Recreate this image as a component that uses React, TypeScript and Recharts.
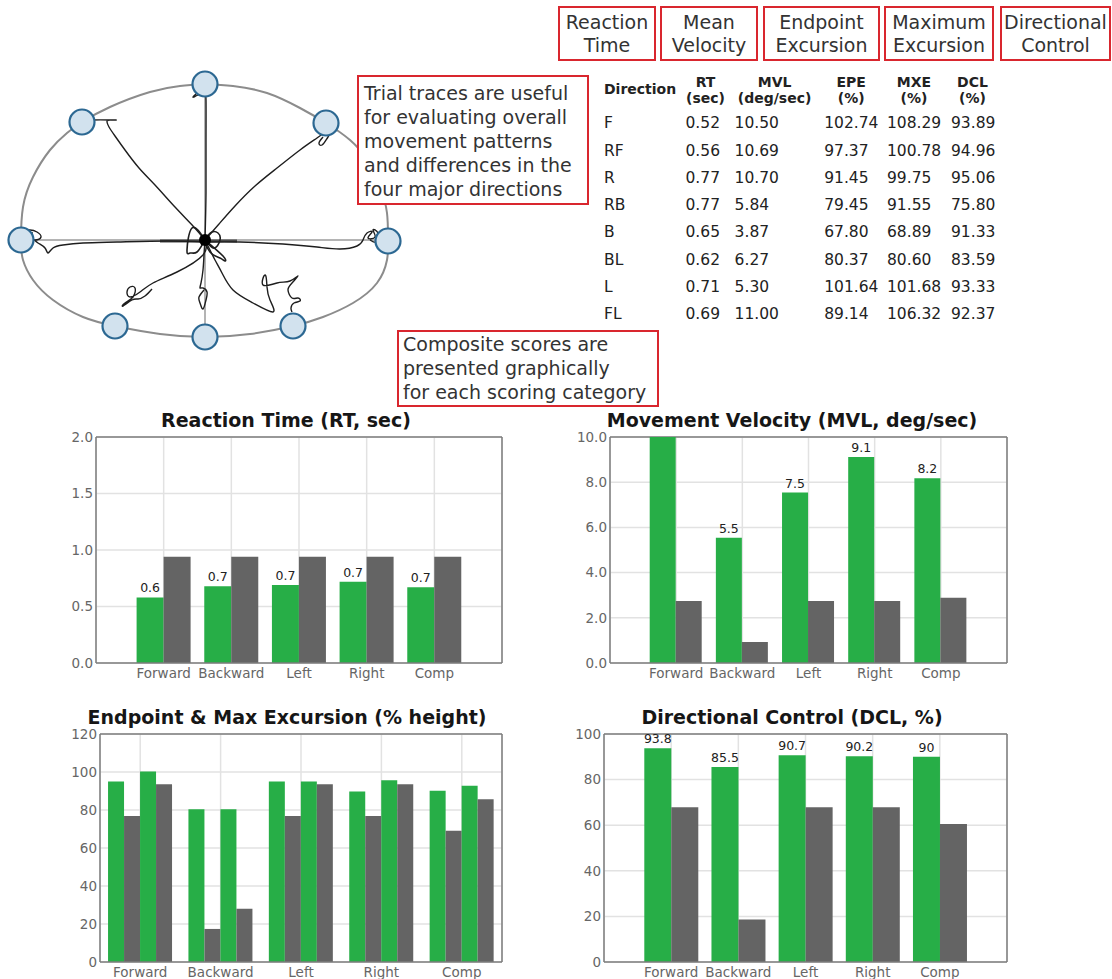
import React from 'react';
import {
  BarChart, Bar, XAxis, YAxis, CartesianGrid, LabelList,
  ComposedChart, Line, Scatter,
} from 'recharts';

const FONT = '"DejaVu Sans", Verdana, sans-serif';
const GREEN = '#27ae47';
const GREY = '#646464';
const RED = '#d9262e';

// ---------- bar chart data ----------
const categories = ['Forward', 'Backward', 'Left', 'Right', 'Comp'];
const rtPatient = [0.58, 0.68, 0.69, 0.72, 0.67];
const rtNorm = [0.94, 0.94, 0.94, 0.94, 0.94];
const mvlPatient = [10.5, 5.54, 7.54, 9.12, 8.18];
const mvlNorm = [2.74, 0.93, 2.74, 2.74, 2.89];
const epePatient = [95.0, 80.4, 95.0, 89.7, 90.1];
const epeNorm = [76.9, 17.4, 76.9, 76.9, 69.1];
const mxePatient = [100.3, 80.4, 95.0, 95.7, 92.7];
const mxeNorm = [93.6, 28.0, 93.6, 93.6, 85.7];
const dclPatient = [93.8, 85.5, 90.7, 90.2, 90.0];
const dclNorm = [67.9, 18.6, 67.9, 67.9, 60.5];

const rtTicks = [0, 0.5, 1.0, 1.5, 2.0];
const mvlTicks = [0, 2, 4, 6, 8, 10];
const epeTicks = [0, 20, 40, 60, 80, 100, 120];
const dclTicks = [0, 20, 40, 60, 80, 100];

// ---------- table data ----------
const directions = ['F', 'RF', 'R', 'RB', 'B', 'BL', 'L', 'FL'];
const tableRT = [0.52, 0.56, 0.77, 0.77, 0.65, 0.62, 0.71, 0.69];
const tableMVL = [10.5, 10.69, 10.7, 5.84, 3.87, 6.27, 5.3, 11.0];
const tableEPE = [102.74, 97.37, 91.45, 79.45, 67.8, 80.37, 101.64, 89.14];
const tableMXE = [108.29, 100.78, 99.75, 91.55, 68.89, 80.6, 101.68, 106.32];
const tableDCL = [93.89, 94.96, 95.06, 75.8, 91.33, 83.59, 93.33, 92.37];
const tableHeads = [['RT', '(sec)'], ['MVL', '(deg/sec)'], ['EPE', '(%)'], ['MXE', '(%)'], ['DCL', '(%)']];
const topLabels = [['Reaction', 'Time'], ['Mean', 'Velocity'], ['Endpoint', 'Excursion'], ['Maximum', 'Excursion'], ['Directional', 'Control']];

// ---------- trace diagram data (units: px offset from centre, y up) ----------
const outline = [
  [0, 156], [28, 154], [62, 147], [95, 132], [121, 117], [145, 100], [162, 80], [175, 53], [182, 27], [183, 0],
  [182, -20], [172, -43], [148, -63], [118, -77], [88, -86], [45, -94], [0, -97], [-45, -94], [-90, -86],
  [-122, -77], [-152, -60], [-172, -40], [-182, -20], [-184, 0], [-182, 33], [-172, 63], [-155, 90],
  [-138, 107], [-123, 118], [-95, 133], [-55, 148], [-25, 154], [0, 156],
];
const targets = [[0, 156], [121, 117], [183, -1], [88, -86], [0, -97], [-90, -86], [-184, 0], [-123, 118]];
const guideV = [[0, 156], [0, -97]];
const guideH = [[-184, 0], [183, 0]];
const centreBar = [[-45, -1], [32, -1]];
const centreDot = [[0, 0]];
const traceF = [[0, 0], [1, 47], [1, 97], [1, 140], [-1, 148], [-7, 145], [-12, 143], [-5, 150], [3, 160], [8, 163], [10, 159], [5, 153], [-1, 147], [3, 155], [8, 161]];
const traceFR = [[0, 0], [14, 16], [30, 34], [50, 54], [72, 72], [95, 90], [112, 102], [123, 110], [128, 115], [125, 117], [122, 115], [128, 113], [123, 103], [117, 95], [114, 97], [118, 103]];
const traceR = [[0, -2], [35, -2], [78, -4], [112, -7], [135, -9], [152, -6], [158, 0], [162, 7], [167, 8], [163, 2], [170, 3], [168, 10], [173, 7], [172, -2], [165, 0]];
const traceBR = [[0, 0], [5, -10], [10, -20], [17, -33], [28, -50], [48, -63], [68, -72], [65, -60], [62, -47], [60, -35], [58, -45], [72, -43], [85, -41], [93, -36], [87, -43], [83, -50], [87, -58], [93, -58], [95, -61], [89, -63], [86, -68], [87, -72]];
const traceB = [[0, 0], [-1, -15], [-2, -30], [-4, -43], [-5, -48], [-2, -48], [2, -52], [1, -60], [-2, -69], [-5, -63], [-6, -57], [-1, -50]];
const traceBL = [[0, 0], [-2, -15], [-28, -32], [-52, -43], [-65, -52], [-75, -57], [-78, -52], [-75, -47], [-70, -48], [-72, -57], [-80, -63], [-82, -66], [-73, -60], [-67, -59], [-60, -56], [-53, -49]];
const traceL = [[0, -2], [-38, -1], [-88, -2], [-122, -3], [-142, -5], [-152, -8], [-157, -13], [-160, -8], [-167, -3], [-173, 2], [-180, 7], [-182, 9], [-175, 10], [-168, 8], [-164, 3], [-170, 0], [-177, 2], [-181, 6], [-172, 7]];
const traceFL = [[0, 0], [-12, 14], [-30, 33], [-50, 55], [-66, 72], [-80, 90], [-90, 104], [-96, 113], [-98, 118], [-95, 120], [-90, 120], [-113, 120], [-118, 119], [-123, 122], [-128, 123], [-125, 118], [-120, 115], [-117, 117], [-122, 121], [-126, 123]];
const traceCentre = [[0, 0], [-13, 12], [-18, -10], [-15, -13], [-8, -12], [0, 0], [7, 8], [13, 7], [15, 0], [8, -8], [0, 0], [5, -12], [15, -18], [20, -21], [18, -16], [0, 0]];

const pts = (a: number[][]) => a.map(([x, y]) => ({ x, y }));

function TraceDiagram() {
  const traces = [traceF, traceFR, traceR, traceBR, traceB, traceBL, traceL, traceFL];
  return (
    <div style={{ position: 'absolute', left: 0, top: 60, width: 420, height: 300 }}>
      <ComposedChart width={420} height={300} margin={{ top: 0, right: 0, bottom: 0, left: 0 }}>
        <XAxis type="number" dataKey="x" domain={[-205, 215]} allowDataOverflow hide />
        <YAxis type="number" dataKey="y" domain={[-120, 180]} allowDataOverflow hide />
        <Line data={pts(outline)} dataKey="y" type="natural" stroke="#8c8c8c" strokeWidth={2} dot={false} activeDot={false} isAnimationActive={false} />
        <Line data={pts(guideV)} dataKey="y" type="linear" stroke="#b4b4b4" strokeWidth={2} dot={false} activeDot={false} isAnimationActive={false} />
        <Line data={pts(guideH)} dataKey="y" type="linear" stroke="#b4b4b4" strokeWidth={2} dot={false} activeDot={false} isAnimationActive={false} />
        <Line data={pts(centreBar)} dataKey="y" type="linear" stroke="#4a4a4a" strokeWidth={3} dot={false} activeDot={false} isAnimationActive={false} />
        {traces.map((t, i) => (
          <Line key={i} data={pts(t)} dataKey="y" type="natural" stroke="#1e1e1e" strokeWidth={1.4} dot={false} activeDot={false} isAnimationActive={false} />
        ))}
        <Line data={pts(traceCentre)} dataKey="y" type="natural" stroke="#1e1e1e" strokeWidth={1.6} dot={false} activeDot={false} isAnimationActive={false} />
        <Scatter data={pts(centreDot)} isAnimationActive={false}
          shape={(p: any) => <circle cx={p.cx} cy={p.cy} r={6} fill="#000" />} />
        <Scatter data={pts(targets)} isAnimationActive={false}
          shape={(p: any) => <circle cx={p.cx} cy={p.cy} r={12.5} fill="#d2e2ee" stroke="#2c6892" strokeWidth={2.2} />} />
      </ComposedChart>
    </div>
  );
}

type Series = { key: string; color: string; label?: boolean };

function BarPanel(props: {
  left: number; top: number; width: number; height: number;
  margin: { top: number; right: number; bottom: number; left: number };
  yWidth: number; xHeight: number; data: any[]; series: Series[];
  domain: [number, number]; ticks: number[]; tickFmt: (v: number) => string; sixSlots: boolean;
}) {
  const { left, top, width, height, margin, yWidth, xHeight, data, series, domain, ticks, tickFmt, sixSlots } = props;
  const plotW = width - margin.left - margin.right - yWidth;
  const pad = sixSlots ? plotW / 12 : 0;
  const axisLine = { stroke: '#7d7d7d', strokeWidth: 1.5 };
  const tick = { fill: '#666', fontSize: 13.5, fontFamily: FONT };
  const fmtLabel = (v: any) => (Number(v) > domain[1] ? '' : String(Math.round(Number(v) * 10) / 10));
  return (
    <div style={{ position: 'absolute', left, top, width, height }}>
      <BarChart width={width} height={height} data={data} margin={margin} barGap={0} barCategoryGap="10%">
        <CartesianGrid stroke="#e2e2e2" strokeWidth={1.5} />
        <CartesianGrid stroke="#7d7d7d" strokeWidth={1.5}
          verticalCoordinatesGenerator={(p: any) => [p.offset.left + p.offset.width]}
          horizontalCoordinatesGenerator={(p: any) => [p.offset.top]} />
        <XAxis dataKey="name" padding={{ left: pad, right: pad }} height={xHeight} interval={0}
          tickLine={false} tickSize={3} tickMargin={2} axisLine={axisLine} tick={tick} />
        <YAxis width={yWidth} type="number" domain={domain} ticks={ticks} allowDataOverflow interval={0}
          tickFormatter={tickFmt} tickLine={false} tickSize={2} tickMargin={1} axisLine={axisLine} tick={tick} />
        {series.map((s) => (
          <Bar key={s.key} dataKey={s.key} fill={s.color} isAnimationActive={false}>
            {s.label ? (
              <LabelList dataKey={s.key} position="top" offset={5} formatter={fmtLabel}
                fill="#222" fontSize={12.5} fontFamily={FONT} />
            ) : null}
          </Bar>
        ))}
      </BarChart>
    </div>
  );
}

function Title({ cx, cy, text }: { cx: number; cy: number; text: string }) {
  return (
    <div style={{ position: 'absolute', left: cx - 260, top: cy - 10, width: 520, height: 20, lineHeight: '20px',
      textAlign: 'center', fontWeight: 'bold', fontSize: 19, color: '#161616', fontFamily: FONT }}>{text}</div>
  );
}

const boxStyle: React.CSSProperties = {
  position: 'absolute', border: `2px solid ${RED}`, background: '#fff', boxSizing: 'border-box',
  color: '#333', fontFamily: FONT,
};

export default function App() {
  const rtData = categories.map((name, i) => ({ name, patient: rtPatient[i], norm: rtNorm[i] }));
  const mvlData = categories.map((name, i) => ({ name, patient: mvlPatient[i], norm: mvlNorm[i] }));
  const exData = categories.map((name, i) => ({ name, epeP: epePatient[i], epeN: epeNorm[i], mxeP: mxePatient[i], mxeN: mxeNorm[i] }));
  const dclData = categories.map((name, i) => ({ name, patient: dclPatient[i], norm: dclNorm[i] }));
  const pair: Series[] = [{ key: 'patient', color: GREEN, label: true }, { key: 'norm', color: GREY }];

  const topBoxes = [[558, 98], [660, 98], [763, 117], [884, 110], [1000, 111]];
  const colLeft = [683.5, 732.6, 822.2, 885, 949];
  const colWidth = [44, 84, 58, 58, 47];
  const rowY0 = 123.3;
  const rowStep = 27.24;
  const tableCols = [tableRT, tableMVL, tableEPE, tableMXE, tableDCL];

  return (
    <div style={{ position: 'absolute', left: 0, top: 0, width: 1112, height: 979, background: '#fff', overflow: 'hidden', fontFamily: FONT }}>
      <TraceDiagram />

      {topLabels.map((lines, i) => (
        <div key={i} style={{ ...boxStyle, left: topBoxes[i][0], top: 6, width: topBoxes[i][1], height: 55,
          textAlign: 'center', fontSize: 19, lineHeight: '23px', paddingTop: 3, whiteSpace: 'nowrap' }}>
          {lines[0]}<br />{lines[1]}
        </div>
      ))}

      <div style={{ ...boxStyle, left: 357, top: 75, width: 232, height: 130, fontSize: 19, lineHeight: '24px', padding: '4px 0 0 5px', whiteSpace: 'nowrap' }}>
        Trial traces are useful<br />for evaluating overall<br />movement patterns<br />and differences in the<br />four major directions
      </div>
      <div style={{ ...boxStyle, left: 397, top: 330, width: 262, height: 77, fontSize: 19, lineHeight: '24px', padding: '0 0 0 4px', whiteSpace: 'nowrap' }}>
        Composite scores are<br />presented graphically<br />for each scoring category
      </div>

      {/* table */}
      <div style={{ position: 'absolute', left: 604, top: 81, fontSize: 14, fontWeight: 'bold', color: '#222', lineHeight: '16px' }}>Direction</div>
      {tableHeads.map((h, c) => (
        <div key={c} style={{ position: 'absolute', left: colLeft[c] - 6, top: 74, width: colWidth[c] + 12, textAlign: 'center',
          fontSize: 14, fontWeight: 'bold', color: '#222', lineHeight: '16px' }}>{h[0]}<br />{h[1]}</div>
      ))}
      {directions.map((d, r) => (
        <React.Fragment key={d}>
          <div style={{ position: 'absolute', left: 604, top: rowY0 + r * rowStep - 10, fontSize: 15.5, lineHeight: '20px', color: '#222' }}>{d}</div>
          {tableCols.map((col, c) => (
            <div key={c} style={{ position: 'absolute', left: colLeft[c] + 2, top: rowY0 + r * rowStep - 10, fontSize: 15.5, lineHeight: '20px', color: '#222' }}>
              {col[r].toFixed(2)}
            </div>
          ))}
        </React.Fragment>
      ))}

      <Title cx={286} cy={420} text="Reaction Time (RT, sec)" />
      <Title cx={792} cy={420} text="Movement Velocity (MVL, deg/sec)" />
      <Title cx={287} cy={717} text="Endpoint & Max Excursion (% height)" />
      <Title cx={792} cy={717} text="Directional Control (DCL, %)" />

      <BarPanel left={40} top={430} width={470} height={262} margin={{ top: 7, right: 8, bottom: 0, left: 0 }}
        yWidth={56} xHeight={29} data={rtData} series={pair} domain={[0, 2]} ticks={rtTicks}
        tickFmt={(v) => v.toFixed(1)} sixSlots />
      <BarPanel left={550} top={430} width={470} height={262} margin={{ top: 7, right: 13, bottom: 0, left: 0 }}
        yWidth={60} xHeight={29} data={mvlData} series={pair} domain={[0, 10]} ticks={mvlTicks}
        tickFmt={(v) => v.toFixed(1)} sixSlots />
      <BarPanel left={40} top={725} width={470} height={254} margin={{ top: 9, right: 8, bottom: 0, left: 0 }}
        yWidth={60} xHeight={17} data={exData}
        series={[{ key: 'epeP', color: GREEN }, { key: 'epeN', color: GREY }, { key: 'mxeP', color: GREEN }, { key: 'mxeN', color: GREY }]}
        domain={[0, 120]} ticks={epeTicks} tickFmt={(v) => String(v)} sixSlots={false} />
      <BarPanel left={550} top={725} width={470} height={254} margin={{ top: 9, right: 13, bottom: 0, left: 0 }}
        yWidth={54} xHeight={17} data={dclData} series={pair} domain={[0, 100]} ticks={dclTicks}
        tickFmt={(v) => String(v)} sixSlots />
    </div>
  );
}
